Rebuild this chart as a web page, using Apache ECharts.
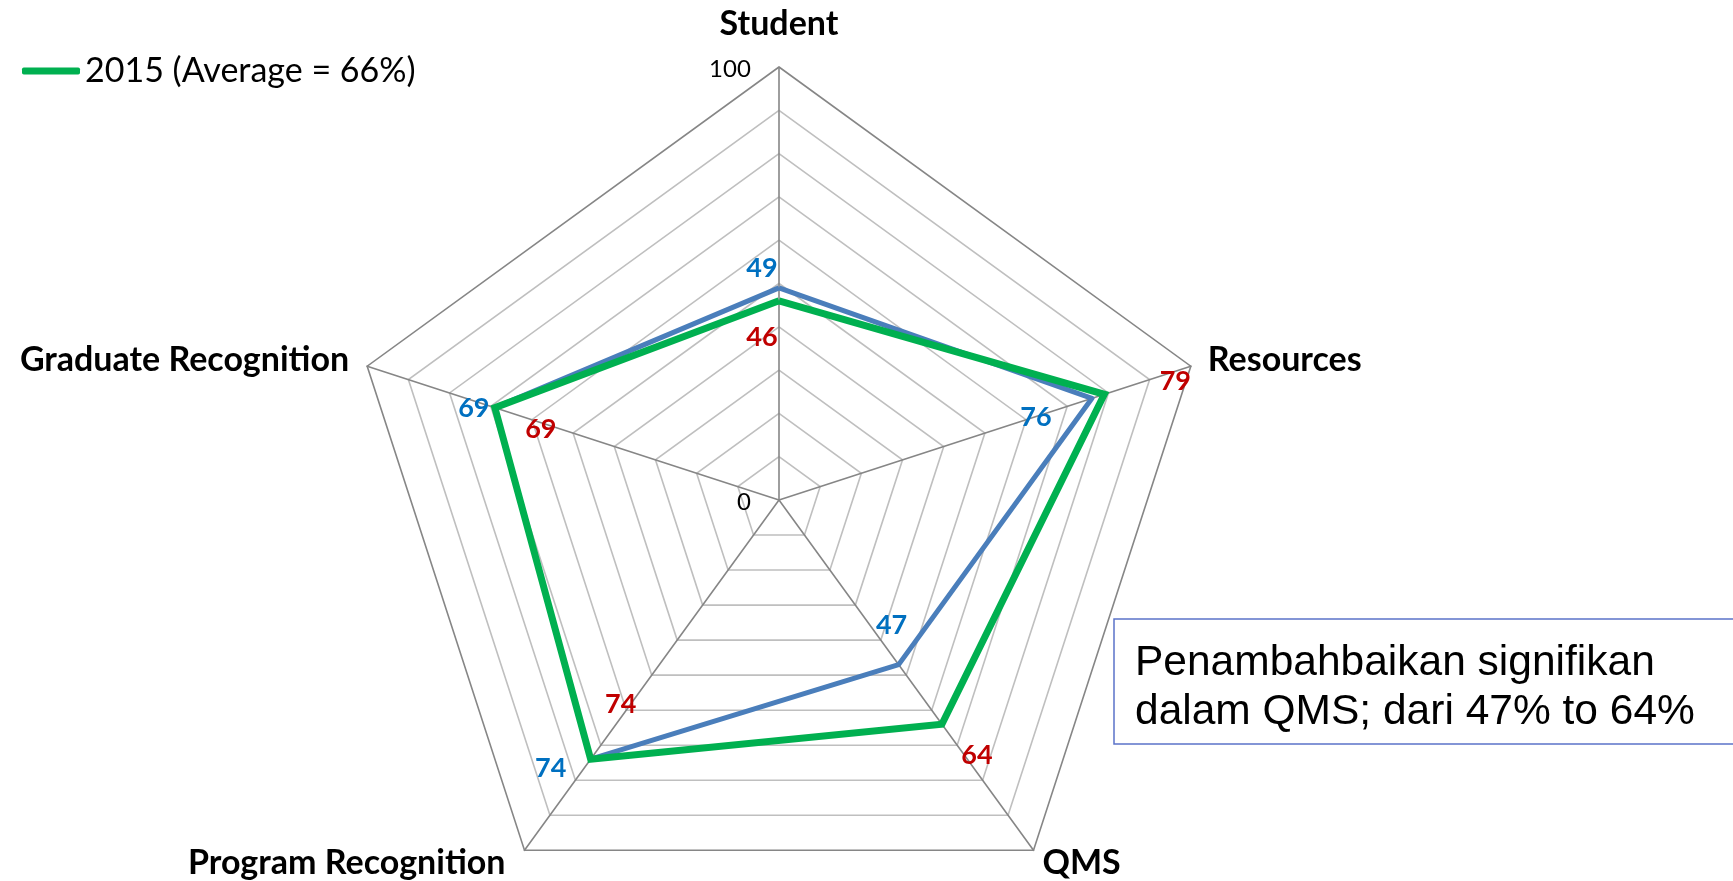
<!DOCTYPE html>
<html>
<head>
<meta charset="utf-8">
<script src="https://cdn.jsdelivr.net/npm/echarts@6/dist/echarts.min.js"></script>
<style>
html,body{margin:0;padding:0;background:#fff;}
#main{width:1733px;height:881px;}
</style>
</head>
<body>
<div id="main"></div>
<script>
// ---- data (clockwise from top, as in the reference) ----
const categories = ['Student', 'Resources', 'QMS', 'Program Recognition', 'Graduate Recognition'];
const values2014 = [49, 76, 47, 74, 69];
const values2015 = [46, 79, 64, 74, 69];
const seriesNames = ['2014', '2015 (Average = 66%)'];
const tickValues = [0, 100];
const tickLabels = ['0', '100'];
const noteLines = ['Penambahbaikan signifikan', 'dalam QMS; dari 47% to 64%'];

// ECharts lays radar indicators counter-clockwise; reorder to draw clockwise
const order = [0, 4, 3, 2, 1];
const reorder = arr => order.map(i => arr[i]);

const chart = echarts.init(document.getElementById('main'));
const nameFont = 'Lato, Carlito, Calibri, sans-serif';

chart.setOption({
  backgroundColor: '#ffffff',
  animation: false,
  legend: {
    data: [seriesNames[1]],
    left: 17, top: 49,
    icon: 'roundRect',
    itemWidth: 58, itemHeight: 7,
    itemGap: 10,
    textStyle: { fontFamily: nameFont, fontSize: 34, color: '#000' }
  },
  radar: {
    center: [779, 500],
    radius: 433,
    startAngle: 90,
    splitNumber: 10,
    shape: 'polygon',
    indicator: reorder(categories).map(n => ({ name: n, min: 0, max: 100 })),
    axisName: { show: false },
    axisLine: { lineStyle: { color: '#868686', width: 1.6 } },
    axisTick: { show: false },
    axisLabel: { show: false },
    splitArea: { show: false },
    splitLine: {
      lineStyle: {
        color: ['#bfbfbf','#bfbfbf','#bfbfbf','#bfbfbf','#bfbfbf','#bfbfbf','#bfbfbf','#bfbfbf','#bfbfbf','#bfbfbf','#868686'],
        width: 1.6
      }
    }
  },
  series: [{
    type: 'radar',
    symbol: 'none',
    data: [
      { name: seriesNames[0], value: reorder(values2014),
        lineStyle: { color: '#4a7ebb', width: 5 }, itemStyle: { color: '#4a7ebb' } },
      { name: seriesNames[1], value: reorder(values2015),
        lineStyle: { color: '#00b050', width: 7, join: 'miter' }, itemStyle: { color: '#00b050' } }
    ]
  }]
});

// ---- labels positioned through the radar coordinate system ----
let radarCS = null;
try {
  const model = chart.getModel ? chart.getModel() : chart._model;
  radarCS = model.getComponent('radar').coordinateSystem;
} catch (e) {}

const g = [];
if (radarCS) {
  const idxOf = i => order.indexOf(i); // indicator index in ECharts order
  const pt = (v, i) => radarCS.dataToPoint(v, idxOf(i));

  // indicator names
  const nameOff = [[0, -43, 'center'], [17, -6, 'left'], [9, 13, 'left'], [-19, 13, 'right'], [-18, -6, 'right']];
  categories.forEach((c, i) => {
    const p = pt(100, i);
    g.push({ type: 'text', x: p[0] + nameOff[i][0], y: p[1] + nameOff[i][1], z: 10,
      style: { text: c, font: 'bold 34px ' + nameFont, fill: '#000', align: nameOff[i][2], verticalAlign: 'middle' } });
  });

  // tick labels on first axis
  tickValues.forEach((v, k) => {
    const p = pt(v, 0);
    g.push({ type: 'text', x: p[0] - (k === 0 ? 35 : 49), y: p[1] + (k === 0 ? 2 : 2), z: 10,
      style: { text: tickLabels[k], font: '24px ' + nameFont, fill: '#000', align: 'center', verticalAlign: 'middle' } });
  });

  // data labels
  const off14 = [[-17, -20], [-56, 19], [-7, -39], [-40, 9], [-21, 1]];
  const off15 = [[-17, 36], [71, -13], [35, 31], [30, -55], [46, 22]];
  categories.forEach((c, i) => {
    const p1 = pt(values2014[i], i);
    g.push({ type: 'text', x: p1[0] + off14[i][0], y: p1[1] + off14[i][1], z: 10,
      style: { text: String(values2014[i]), font: 'bold 27px ' + nameFont, fill: '#0070c0', align: 'center', verticalAlign: 'middle' } });
    const p2 = pt(values2015[i], i);
    g.push({ type: 'text', x: p2[0] + off15[i][0], y: p2[1] + off15[i][1], z: 10,
      style: { text: String(values2015[i]), font: 'bold 27px ' + nameFont, fill: '#c00000', align: 'center', verticalAlign: 'middle' } });
  });
}

// annotation box
g.push({ type: 'rect', z: 20, shape: { x: 1114, y: 619, width: 700, height: 125 },
  style: { fill: '#ffffff', stroke: '#5b73c9', lineWidth: 1.5 } });
noteLines.forEach((t, k) => {
  g.push({ type: 'text', z: 21, x: 1135, y: 663 + k * 49,
    style: { text: t, font: '42.5px "Liberation Sans", Arial, sans-serif', fill: '#000', align: 'left', verticalAlign: 'middle' } });
});

chart.setOption({ graphic: g });
</script>
</body>
</html>
